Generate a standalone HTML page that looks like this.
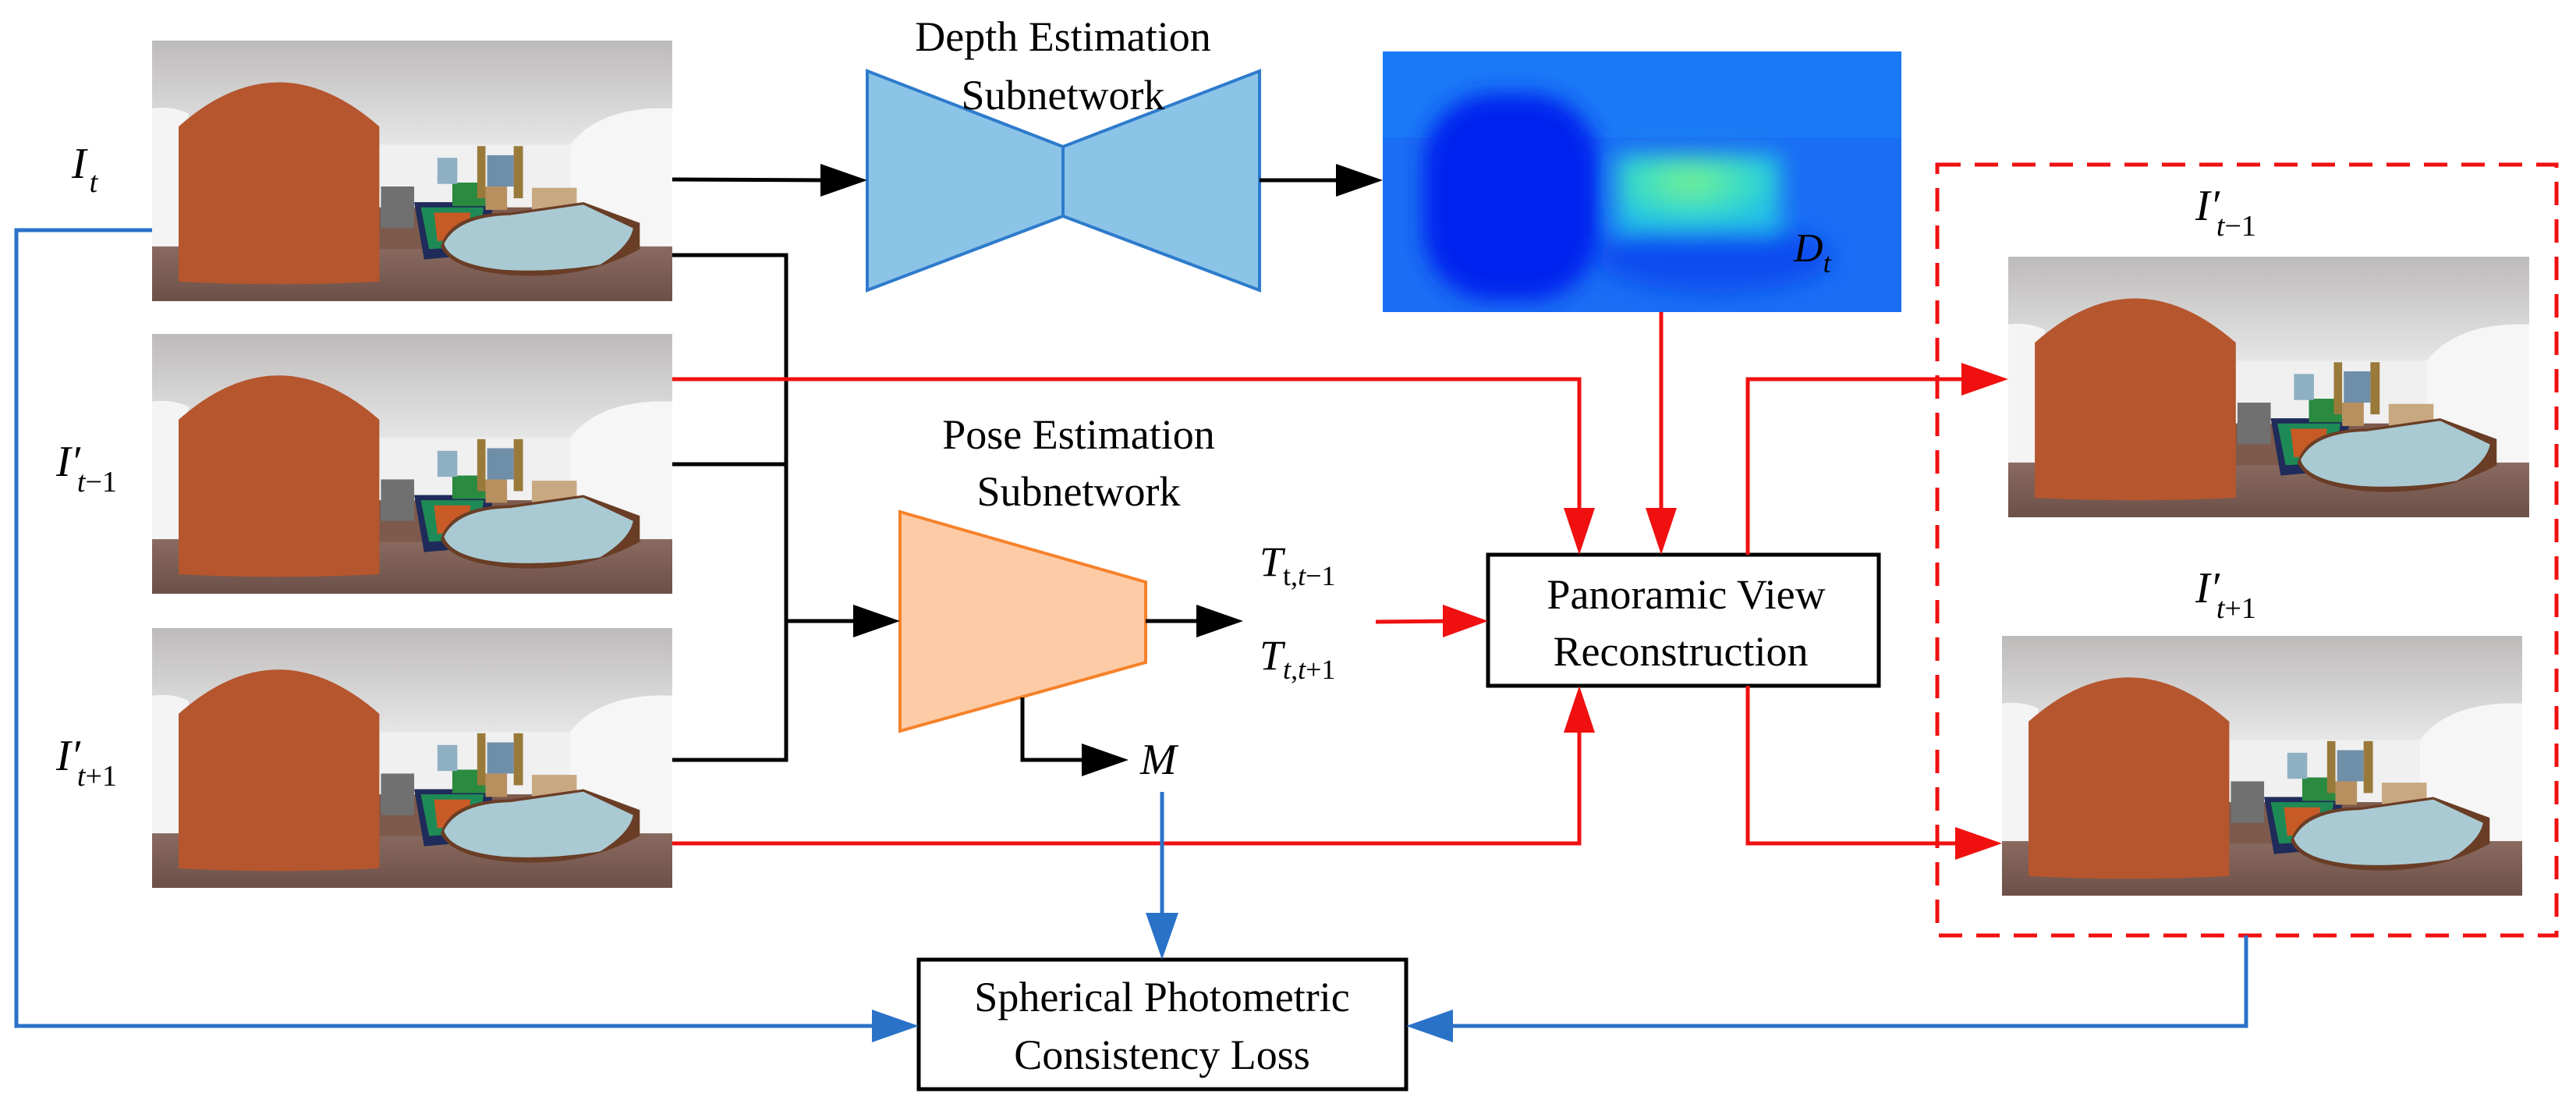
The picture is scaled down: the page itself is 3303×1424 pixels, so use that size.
<!DOCTYPE html>
<html><head><meta charset="utf-8"><style>
html,body{margin:0;padding:0;background:#fff;}
svg{display:block;}
text{font-family:"Liberation Serif",serif;fill:#000;}
</style></head><body>
<svg width="3303" height="1424" viewBox="0 0 3303 1424" xmlns="http://www.w3.org/2000/svg">
<defs>
<linearGradient id="ceil" x1="0" y1="0" x2="0" y2="1">
<stop offset="0" stop-color="#bdbbba"/><stop offset="0.4" stop-color="#e6e6e6"/><stop offset="1" stop-color="#f2f2f2"/></linearGradient>
<linearGradient id="floor" x1="0" y1="0" x2="0" y2="1">
<stop offset="0" stop-color="#8a6a60"/><stop offset="1" stop-color="#6c5048"/></linearGradient>
<filter id="blur" x="-20%" y="-20%" width="140%" height="140%"><feGaussianBlur stdDeviation="14"/></filter>
<symbol id="pano" viewBox="0 0 1568 1000" preserveAspectRatio="none">
<rect width="1568" height="1000" fill="url(#ceil)"/>
<path d="M0,260 Q60,250 110,280 L110,800 L0,800Z" fill="#f4f4f4"/>
<path d="M1260,400 Q1350,250 1568,260 L1568,800 L1260,800Z" fill="#f6f6f6"/>
<rect x="680" y="400" width="580" height="260" fill="#f0f0f0"/>
<rect x="0" y="790" width="1568" height="210" fill="url(#floor)"/>
<rect x="680" y="640" width="600" height="160" fill="#7d5a4c"/>
<rect x="690" y="560" width="100" height="160" fill="#707070"/>
<path d="M790,620 L1030,620 L1000,820 L820,840Z" fill="#1f2b5a"/>
<path d="M810,640 L1000,640 L980,790 L835,800Z" fill="#1e8a55"/>
<path d="M850,660 L960,660 L950,760 L860,770Z" fill="#c85a26"/>
<rect x="905" y="545" width="100" height="90" fill="#2a8a40"/>
<rect x="1005" y="560" width="65" height="90" fill="#b89060"/>
<rect x="980" y="405" width="25" height="200" fill="#9a7a3a"/>
<rect x="1090" y="405" width="28" height="200" fill="#9a7a3a"/>
<rect x="1010" y="440" width="80" height="120" fill="#6f8ea8"/>
<rect x="860" y="450" width="60" height="100" fill="#8fb0c2"/>
<rect x="1145" y="565" width="135" height="100" fill="#c8a880"/>
<path d="M870,790 Q900,660 1080,660 L1300,620 L1470,700 L1470,800 Q1300,920 1080,900 Q900,880 870,790Z" fill="#6a3d26"/>
<path d="M880,780 Q920,675 1080,670 L1300,630 L1450,720 Q1440,790 1350,860 Q1200,890 1060,880 Q900,860 880,780Z" fill="#a9cad3"/>
<path d="M80,330 Q380,-10 685,330 L685,925 Q380,945 80,925Z" fill="#b5562e"/>
</symbol>
<radialGradient id="gblob" cx="0.45" cy="0.35" r="0.6">
<stop offset="0" stop-color="#7ef08a"/><stop offset="0.5" stop-color="#40e0c0"/><stop offset="1" stop-color="#20c0e8"/></radialGradient>
<clipPath id="dclip"><rect x="1773" y="66" width="665" height="334"/></clipPath>
</defs>

<use href="#pano" x="195" y="52" width="667" height="334"/>
<use href="#pano" x="195" y="428" width="667" height="333"/>
<use href="#pano" x="195" y="805" width="667" height="333"/>
<use href="#pano" x="2575" y="329" width="668" height="334"/>
<use href="#pano" x="2567" y="815" width="667" height="333"/>

<!-- depth map -->
<g clip-path="url(#dclip)">
<rect x="1773" y="66" width="665" height="334" fill="#1a6ef4"/>
<rect x="1773" y="66" width="665" height="110" fill="#1a7af6"/>
<g filter="url(#blur)">
<rect x="1825" y="120" width="225" height="265" rx="90" fill="#0020ee"/>
<ellipse cx="2200" cy="330" rx="150" ry="45" fill="#0a4ef0"/>
<rect x="2073" y="198" width="210" height="100" fill="url(#gblob)"/>
</g>
</g>
<text x="2300" y="335" font-size="52" font-style="italic">D<tspan font-size="36" dy="14">t</tspan></text>

<text x="92" y="228" font-size="56" font-style="italic">I<tspan font-size="38" dy="18" dx="4">t</tspan></text>
<text x="72" y="610" font-size="56" font-style="italic">I′<tspan font-size="38" dy="20" dx="-4">t</tspan><tspan font-style="normal" font-size="38">−1</tspan></text>
<text x="72" y="987" font-size="56" font-style="italic">I′<tspan font-size="38" dy="20" dx="-4">t</tspan><tspan font-style="normal" font-size="38">+1</tspan></text>
<text x="2815" y="282" font-size="56" font-style="italic">I′<tspan font-size="38" dy="20" dx="-4">t</tspan><tspan font-style="normal" font-size="38">−1</tspan></text>
<text x="2815" y="772" font-size="56" font-style="italic">I′<tspan font-size="38" dy="20" dx="-4">t</tspan><tspan font-style="normal" font-size="38">+1</tspan></text>

<polygon points="1112,91 1363,188 1615,91 1615,372 1363,277 1112,372" fill="#8cc4e8" stroke="#2e7bcc" stroke-width="4"/>
<line x1="1363" y1="188" x2="1363" y2="277" stroke="#2e7bcc" stroke-width="4"/>
<text x="1363" y="65" font-size="54" text-anchor="middle">Depth Estimation</text>
<text x="1363" y="140" font-size="54" text-anchor="middle">Subnetwork</text>

<polygon points="1154,656 1469,746 1469,849 1154,937" fill="#fdcba6" stroke="#f6822a" stroke-width="4"/>
<text x="1383" y="575" font-size="54" text-anchor="middle">Pose Estimation</text>
<text x="1383" y="648" font-size="54" text-anchor="middle">Subnetwork</text>

<g stroke="#000" stroke-width="5" fill="none">
<line x1="862" y1="230" x2="1065" y2="231"/>
<line x1="1615" y1="231" x2="1725" y2="231"/>
<polyline points="862,327 1008,327 1008,974 862,974"/>
<line x1="862" y1="595" x2="1008" y2="595"/>
<line x1="1008" y1="796" x2="1110" y2="796"/>
<line x1="1469" y1="796" x2="1550" y2="796"/>
<polyline points="1311,894 1311,974 1400,974"/>
</g>
<g fill="#000">
<polygon points="1112,231 1052,210 1052,252"/>
<polygon points="1773,231 1713,210 1713,252"/>
<polygon points="1154,796 1094,775 1094,817"/>
<polygon points="1594,796 1534,775 1534,817"/>
<polygon points="1447,974 1387,953 1387,995"/>
</g>
<text x="1615" y="738" font-size="54" font-style="italic">T<tspan font-size="36" font-style="normal" dy="12">t,</tspan><tspan font-size="36">t</tspan><tspan font-size="36" font-style="normal">−1</tspan></text>
<text x="1615" y="858" font-size="54" font-style="italic">T<tspan font-size="36" dy="12">t</tspan><tspan font-size="36" font-style="normal">,</tspan><tspan font-size="36">t</tspan><tspan font-size="36" font-style="normal">+1</tspan></text>
<text x="1462" y="992" font-size="56" font-style="italic">M</text>

<rect x="1908" y="711" width="501" height="168" fill="#fff" stroke="#000" stroke-width="5"/>
<text x="2162" y="780" font-size="54" text-anchor="middle">Panoramic View</text>
<text x="2155" y="853" font-size="54" text-anchor="middle">Reconstruction</text>

<rect x="1178" y="1230" width="625" height="166" fill="#fff" stroke="#000" stroke-width="5"/>
<text x="1490" y="1296" font-size="54" text-anchor="middle">Spherical Photometric</text>
<text x="1490" y="1370" font-size="54" text-anchor="middle">Consistency Loss</text>

<g stroke="#f01010" stroke-width="5" fill="none">
<polyline points="862,486 2025,486 2025,670"/>
<line x1="2130" y1="400" x2="2130" y2="670"/>
<polyline points="862,1081 2025,1081 2025,920"/>
<line x1="1764" y1="797" x2="1868" y2="796"/>
<polyline points="2241,711 2241,486 2530,486"/>
<polyline points="2241,879 2241,1081 2522,1081"/>
</g>
<g fill="#f01010">
<polygon points="2025,711 2005,651 2045,651"/>
<polygon points="2130,711 2110,651 2150,651"/>
<polygon points="2025,879 2005,939 2045,939"/>
<polygon points="1908,796 1850,775 1850,817"/>
<polygon points="2575,486 2515,465 2515,507"/>
<polygon points="2567,1081 2507,1060 2507,1102"/>
</g>
<rect x="2484" y="211" width="794" height="988" fill="none" stroke="#f01010" stroke-width="5" stroke-dasharray="30,18"/>

<g stroke="#2a72c8" stroke-width="5" fill="none">
<polyline points="195,295 21,295 21,1315 1130,1315"/>
<line x1="1490" y1="1015" x2="1490" y2="1185"/>
<polyline points="2880,1199 2880,1315 1850,1315"/>
</g>
<g fill="#2a72c8">
<polygon points="1178,1315 1118,1294 1118,1336"/>
<polygon points="1490,1230 1469,1170 1511,1170"/>
<polygon points="1803,1315 1863,1294 1863,1336"/>
</g>
</svg>
</body></html>
